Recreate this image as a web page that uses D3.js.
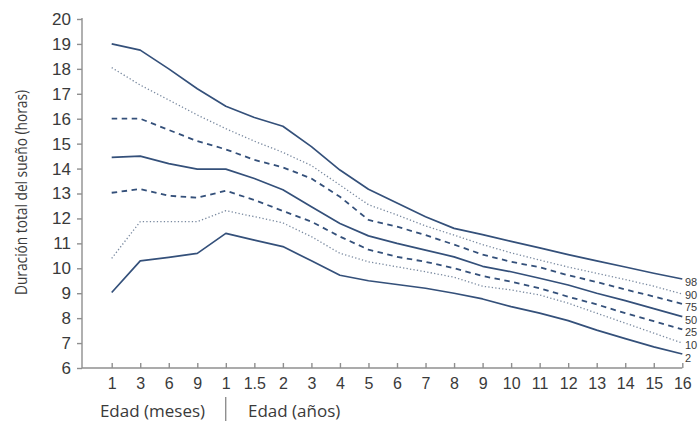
<!DOCTYPE html>
<html>
<head>
<meta charset="utf-8">
<script src="https://cdn.jsdelivr.net/npm/d3@7"></script>
<style>
  html, body { margin: 0; padding: 0; background: #fff; }
  svg { display: block; font-family: "Open Sans", "Noto Sans", sans-serif; }
</style>
</head>
<body>
<div id="chart"></div>
<script>
// Etiquetas del eje X (meses y luego años)
const xLabels = ["1", "3", "6", "9", "1", "1.5", "2", "3", "4", "5", "6", "7", "8", "9", "10", "11", "12", "13", "14", "15", "16"];
const yTicks = [6, 7, 8, 9, 10, 11, 12, 13, 14, 15, 16, 17, 18, 19, 20];

// Percentiles de duración total del sueño (horas)
const p98 = [19.0, 18.75, 18.0, 17.2, 16.5, 16.05, 15.7, 14.88, 13.94, 13.17, 12.62, 12.07, 11.6, 11.35, 11.08, 10.82, 10.55, 10.3, 10.05, 9.8, 9.57];
const p90 = [18.05, 17.35, 16.75, 16.15, 15.6, 15.1, 14.65, 14.12, 13.34, 12.55, 12.14, 11.7, 11.33, 10.95, 10.62, 10.33, 10.05, 9.8, 9.55, 9.28, 8.97];
const p75 = [16.0, 16.0, 15.55, 15.1, 14.77, 14.35, 14.05, 13.6, 12.87, 11.94, 11.67, 11.33, 10.95, 10.55, 10.26, 10.04, 9.72, 9.45, 9.15, 8.87, 8.57];
const p50 = [14.45, 14.5, 14.2, 13.98, 13.98, 13.6, 13.15, 12.47, 11.8, 11.3, 11.0, 10.73, 10.46, 10.08, 9.86, 9.6, 9.33, 9.0, 8.7, 8.38, 8.06];
const p25 = [13.03, 13.18, 12.91, 12.83, 13.11, 12.74, 12.3, 11.87, 11.27, 10.75, 10.46, 10.26, 10.0, 9.69, 9.46, 9.2, 8.86, 8.55, 8.2, 7.88, 7.55];
const p10 = [10.4, 11.87, 11.87, 11.87, 12.31, 12.07, 11.82, 11.27, 10.6, 10.26, 10.06, 9.86, 9.64, 9.28, 9.13, 8.93, 8.6, 8.2, 7.8, 7.4, 7.0];
const p2 = [9.03, 10.3, 10.44, 10.6, 11.4, 11.13, 10.87, 10.3, 9.72, 9.5, 9.35, 9.2, 9.0, 8.77, 8.46, 8.2, 7.9, 7.52, 7.18, 6.85, 6.56];

const seriesNames = ["98", "90", "75", "50", "25", "10", "2"];
const seriesValues = [p98, p90, p75, p50, p25, p10, p2];
const seriesStyle = ["solid", "dot", "dash", "solid", "dash", "dot", "solid"];

const width = 700, height = 423;
const lineColor = "#34507a";
const axisColor = "#8f8f8f";
const textColor = "#3a3a3a";

const svg = d3.select("#chart").append("svg")
    .attr("width", width)
    .attr("height", height);

const x = d3.scalePoint()
    .domain(d3.range(xLabels.length))
    .range([111.7, 682.3]);

const y = d3.scaleLinear()
    .domain([6, 20])
    .range([368, 19]);

// Eje Y
const yAxis = svg.append("g")
    .attr("transform", "translate(82,0)")
    .call(d3.axisLeft(y).tickValues(yTicks).tickSize(5).tickPadding(6).tickFormat(d3.format("d")));
yAxis.select(".domain").attr("stroke", axisColor).attr("stroke-width", 1.4).attr("d", `M0,${y(20) - 1}V${y(6)}`);
yAxis.selectAll(".tick line").attr("stroke", axisColor).attr("stroke-width", 1.4);
yAxis.selectAll(".tick text").attr("fill", textColor).style("font-size", "17px");

// Eje X (ticks hacia arriba)
const xAxis = svg.append("g")
    .attr("transform", `translate(0,${y(6)})`)
    .call(d3.axisBottom(x).tickSize(-5).tickPadding(10).tickFormat(i => xLabels[i]));
xAxis.select(".domain").attr("stroke", axisColor).attr("stroke-width", 1.4).attr("d", `M82,0H${x(20)}`);
xAxis.selectAll(".tick line").attr("stroke", axisColor).attr("stroke-width", 1.4);
xAxis.selectAll(".tick text").attr("fill", textColor).style("font-size", "16px");

// Líneas de percentiles
const line = d3.line()
    .x((d, i) => x(i))
    .y(d => y(d));

seriesValues.forEach((vals, k) => {
    const st = seriesStyle[k];
    svg.append("path")
        .datum(vals)
        .attr("fill", "none")
        .attr("stroke", st === "dot" ? "#7a8aa0" : lineColor)
        .attr("stroke-width", st === "dot" ? 1.3 : (st === "dash" ? 1.8 : 1.7))
        .attr("stroke-dasharray", st === "dot" ? "1.3,2.2" : (st === "dash" ? "5.5,4.5" : null))
        .attr("stroke-linejoin", "round")
        .attr("d", line);
});

// Rótulos de percentil al final de cada línea, separados de abajo hacia arriba
const labelY = [];
let prev = Infinity;
for (let k = seriesValues.length - 1; k >= 0; k--) {
    const vals = seriesValues[k];
    const yy = Math.min(y(vals[vals.length - 1]) + 3.5, prev - 12.6);
    labelY[k] = yy;
    prev = yy;
}
svg.selectAll(".pct-label")
    .data(seriesNames)
    .enter()
    .append("text")
    .attr("class", "pct-label")
    .attr("x", 685)
    .attr("y", (d, k) => labelY[k] + 4)
    .attr("fill", textColor)
    .style("font-family", "'Liberation Sans', Arial, sans-serif")
    .style("font-size", "11px")
    .text(d => d);

// Título del eje Y
svg.append("text")
    .attr("transform", "translate(27,192.5) rotate(-90)")
    .attr("text-anchor", "middle")
    .attr("fill", textColor)
    .attr("textLength", 205)
    .attr("lengthAdjust", "spacingAndGlyphs")
    .style("font-size", "15.5px")
    .text("Duración total del sueño (horas)");

// Rótulos inferiores
svg.append("text")
    .attr("x", 152.5)
    .attr("y", 416.5)
    .attr("text-anchor", "middle")
    .attr("fill", textColor)
    .style("font-size", "17px")
    .text("Edad (meses)");

svg.append("line")
    .attr("x1", 225.7).attr("x2", 225.7)
    .attr("y1", 397).attr("y2", 421)
    .attr("stroke", axisColor)
    .attr("stroke-width", 1.4);

svg.append("text")
    .attr("x", 248)
    .attr("y", 416.5)
    .attr("fill", textColor)
    .style("font-size", "17px")
    .text("Edad (años)");
</script>
</body>
</html>
